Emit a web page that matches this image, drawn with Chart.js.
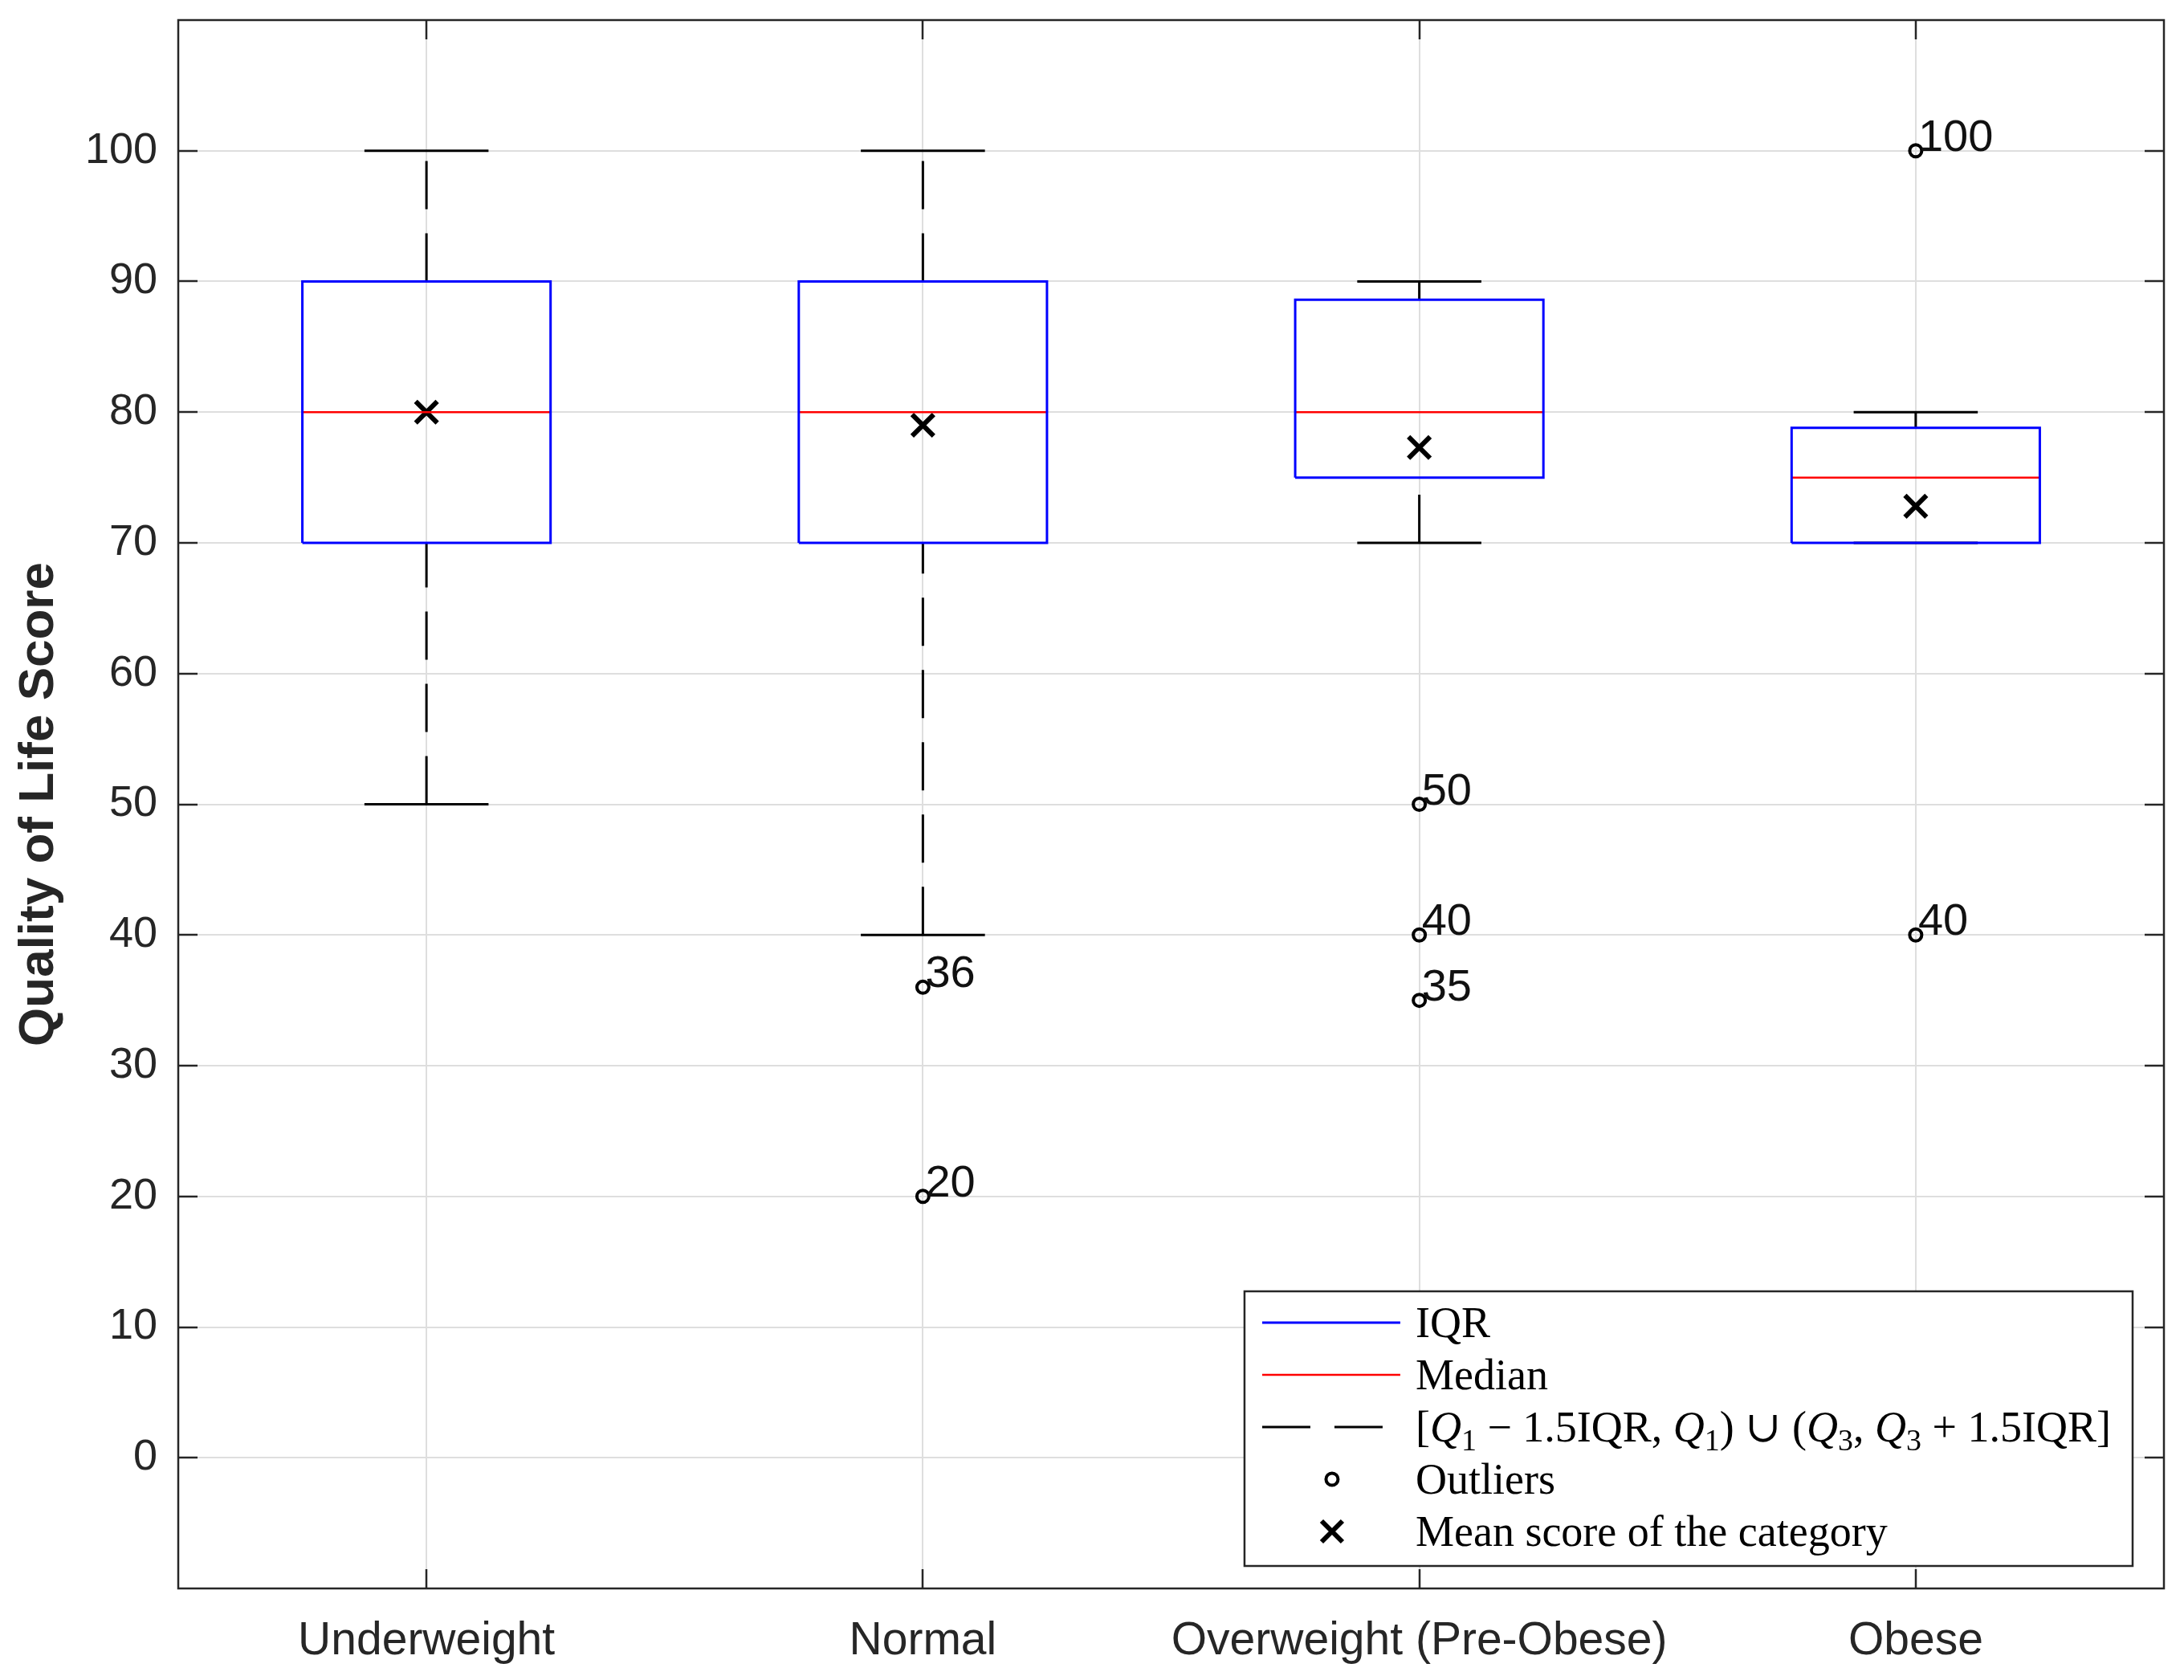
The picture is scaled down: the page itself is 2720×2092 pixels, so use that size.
<!DOCTYPE html>
<html>
<head>
<meta charset="utf-8">
<title>Quality of Life Score by BMI category</title>
<script src="https://cdn.jsdelivr.net/npm/chart.js@4"></script>
<style>
  body { margin: 0; background: #fff; }
  canvas { display: block; }
</style>
</head>
<body>
<canvas id="myChart" width="2720" height="2092"></canvas>
<script>
// values
var categories = ["Underweight", "Normal", "Overweight (Pre-Obese)", "Obese"];
var lowerWhisker = [50, 40, 70, 70];
var q1 = [70, 70, 75, 70];
var medians = [80, 80, 80, 75];
var q3 = [90, 90, 88.6, 78.8];
var upperWhisker = [100, 100, 90, 80];
var means = [80, 79, 77.3, 72.8];
var outliers = [[], [36, 20], [50, 40, 35], [100, 40]];
var yTicks = [0, 10, 20, 30, 40, 50, 60, 70, 80, 90, 100];

var axisColor = "#262626";
var sansFont = "'Liberation Sans', Arial, sans-serif";
var serifFont = "'Liberation Serif', 'DejaVu Serif', serif";

// build the marks from the arrays above, one dataset per kind of mark
var boxData = [], medianData = [], whiskerData = [], capData = [], outlierData = [], meanData = [];
for (var i = 0; i < categories.length; i++) {
    var c = i + 1;
    boxData.push({x: c - 0.25, y: q1[i]}, {x: c + 0.25, y: q1[i]}, {x: c + 0.25, y: q3[i]},
                 {x: c - 0.25, y: q3[i]}, {x: c - 0.25, y: q1[i]}, {x: c, y: null});
    medianData.push({x: c - 0.25, y: medians[i]}, {x: c + 0.25, y: medians[i]}, {x: c, y: null});
    // whiskers go bottom to top so the dash pattern starts at the lower end
    whiskerData.push({x: c, y: lowerWhisker[i]}, {x: c, y: q1[i]}, {x: c, y: null});
    whiskerData.push({x: c, y: q3[i]}, {x: c, y: upperWhisker[i]}, {x: c, y: null});
    capData.push({x: c - 0.125, y: lowerWhisker[i]}, {x: c + 0.125, y: lowerWhisker[i]}, {x: c, y: null});
    capData.push({x: c - 0.125, y: upperWhisker[i]}, {x: c + 0.125, y: upperWhisker[i]}, {x: c, y: null});
    for (var k = 0; k < outliers[i].length; k++) {
        outlierData.push({x: c, y: outliers[i][k]});
    }
    meanData.push({x: c, y: means[i]});
}

function lineSet(label, data, color, width, dash) {
    return {
        label: label,
        data: data,
        borderColor: color,
        borderWidth: width,
        borderDash: dash || [],
        borderJoinStyle: "miter",
        pointRadius: 0,
        pointHoverRadius: 0,
        fill: false,
        tension: 0
    };
}

// text next to every outlier
var outlierLabels = {
    id: "outlierLabels",
    afterDatasetsDraw: function (chart) {
        var ctx = chart.ctx;
        var xs = chart.scales.x, ys = chart.scales.y;
        ctx.save();
        ctx.font = "56px " + sansFont;
        ctx.fillStyle = "#111";
        ctx.textAlign = "left";
        ctx.textBaseline = "alphabetic";
        outlierData.forEach(function (p) {
            ctx.fillText(String(p.y), xs.getPixelForValue(p.x) + 3, ys.getPixelForValue(p.y));
        });
        ctx.restore();
    }
};

// draws [Q1 - 1.5IQR, Q1) U (Q3, Q3 + 1.5IQR] with italic Q and small subscripts
function richParts() {
    return [
        ["[", "n"], ["Q", "i"], ["1", "s"], [" \u2212 1.5IQR, ", "n"], ["Q", "i"], ["1", "s"],
        [") \u222A (", "n"], ["Q", "i"], ["3", "s"], [", ", "n"], ["Q", "i"], ["3", "s"],
        [" + 1.5IQR]", "n"]
    ];
}
function setPartFont(ctx, kind) {
    if (kind == "i") ctx.font = "italic 54px " + serifFont;
    else if (kind == "s") ctx.font = "38px " + serifFont;
    else ctx.font = "54px " + serifFont;
}
function drawRich(ctx, parts, x, y, measureOnly) {
    var w = 0;
    for (var j = 0; j < parts.length; j++) {
        setPartFont(ctx, parts[j][1]);
        if (!measureOnly) ctx.fillText(parts[j][0], x + w, parts[j][1] == "s" ? y + 11 : y);
        w += ctx.measureText(parts[j][0]).width;
    }
    return w;
}

var legendLabels = ["IQR", "Median", null, "Outliers", "Mean score of the category"];

// axes box with inward ticks, plus the legend in the lower right corner
var boxAndLegend = {
    id: "boxAndLegend",
    afterDraw: function (chart) {
        var ctx = chart.ctx;
        var a = chart.chartArea;
        var xs = chart.scales.x, ys = chart.scales.y;
        var tl = 24;
        ctx.save();
        ctx.strokeStyle = axisColor;
        ctx.lineWidth = 2.5;
        ctx.strokeRect(a.left, a.top, a.right - a.left, a.bottom - a.top);
        ctx.beginPath();
        yTicks.forEach(function (v) {
            var py = Math.round(ys.getPixelForValue(v));
            ctx.moveTo(a.left, py); ctx.lineTo(a.left + tl, py);
            ctx.moveTo(a.right, py); ctx.lineTo(a.right - tl, py);
        });
        categories.forEach(function (name, idx) {
            var px = Math.round(xs.getPixelForValue(idx + 1));
            ctx.moveTo(px, a.bottom); ctx.lineTo(px, a.bottom - tl);
            ctx.moveTo(px, a.top); ctx.lineTo(px, a.top + tl);
        });
        ctx.stroke();

        // legend
        var widest = 0;
        legendLabels.forEach(function (t) {
            var w;
            if (t === null) {
                w = drawRich(ctx, richParts(), 0, 0, true);
            } else {
                ctx.font = "54px " + serifFont;
                w = ctx.measureText(t).width;
            }
            if (w > widest) widest = w;
        });
        var lw = 213 + widest + 27;
        var lh = 342;
        var lx = a.right - 39 - lw;
        var ly = a.bottom - 28 - lh;
        ctx.fillStyle = "#fff";
        ctx.fillRect(lx, ly, lw, lh);
        ctx.strokeStyle = axisColor;
        ctx.lineWidth = 2.5;
        ctx.strokeRect(lx, ly, lw, lh);

        var samples = chart.data.datasets;
        for (var r = 0; r < legendLabels.length; r++) {
            var cy = ly + 39 + r * 65;
            ctx.setLineDash([]);
            if (r < 3) {
                var ds = samples[r];
                ctx.strokeStyle = ds.borderColor;
                ctx.lineWidth = ds.borderWidth;
                ctx.setLineDash(ds.borderDash);
                ctx.beginPath();
                ctx.moveTo(lx + 22, cy); ctx.lineTo(lx + 194, cy);
                ctx.stroke();
                ctx.setLineDash([]);
            } else if (r == 3) {
                ctx.strokeStyle = "#000";
                ctx.lineWidth = 4;
                ctx.beginPath();
                ctx.arc(lx + 109, cy, 7.5, 0, Math.PI * 2);
                ctx.stroke();
            } else {
                ctx.strokeStyle = "#000";
                ctx.lineWidth = 6;
                ctx.beginPath();
                ctx.moveTo(lx + 96, cy - 13); ctx.lineTo(lx + 122, cy + 13);
                ctx.moveTo(lx + 96, cy + 13); ctx.lineTo(lx + 122, cy - 13);
                ctx.stroke();
            }
            ctx.fillStyle = "#000";
            ctx.textAlign = "left";
            ctx.textBaseline = "alphabetic";
            if (legendLabels[r] === null) {
                drawRich(ctx, richParts(), lx + 213, cy + 18, false);
            } else {
                ctx.font = "54px " + serifFont;
                ctx.fillText(legendLabels[r], lx + 213, cy + 18);
            }
        }
        ctx.restore();
    }
};

Chart.defaults.font.family = sansFont;
Chart.defaults.color = axisColor;

new Chart("myChart", {
    type: "line",
    data: {
        datasets: [
            lineSet("IQR", boxData, "#0000ff", 3),
            lineSet("Median", medianData, "#ff0000", 2.5),
            lineSet("Whiskers", whiskerData, "#000000", 3, [60, 30]),
            lineSet("Caps", capData, "#000000", 3),
            {
                label: "Outliers",
                data: outlierData,
                showLine: false,
                pointStyle: "circle",
                pointRadius: 7.5,
                pointHoverRadius: 7.5,
                pointBorderWidth: 4,
                pointBorderColor: "#000",
                pointBackgroundColor: "rgba(0,0,0,0)"
            },
            {
                label: "Mean score of the category",
                data: meanData,
                showLine: false,
                pointStyle: "crossRot",
                pointRadius: 19,
                pointHoverRadius: 19,
                pointBorderWidth: 6,
                pointBorderColor: "#000"
            }
        ]
    },
    options: {
        responsive: false,
        devicePixelRatio: 1,
        animation: false,
        events: [],
        layout: { padding: { top: 21, right: 19, left: 0, bottom: 0 } },
        plugins: {
            legend: { display: false },
            tooltip: { enabled: false }
        },
        scales: {
            x: {
                type: "linear",
                min: 0.5,
                max: 4.5,
                afterBuildTicks: function (scale) {
                    scale.ticks = categories.map(function (name, idx) { return {value: idx + 1}; });
                },
                afterFit: function (scale) {
                    scale.height = 114;
                    scale.paddingLeft = 0;
                    scale.paddingRight = 0;
                },
                ticks: {
                    autoSkip: false,
                    maxRotation: 0,
                    padding: 32,
                    font: { size: 57 },
                    color: axisColor,
                    callback: function (value) { return categories[Math.round(value) - 1]; }
                },
                grid: { color: "#dedede", lineWidth: 2, drawTicks: false },
                border: { display: false }
            },
            y: {
                type: "linear",
                min: -10,
                max: 110,
                afterBuildTicks: function (scale) {
                    scale.ticks = yTicks.map(function (v) { return {value: v}; });
                },
                afterFit: function (scale) {
                    scale.width = 222;
                    scale.paddingTop = 0;
                    scale.paddingBottom = 0;
                },
                ticks: {
                    autoSkip: false,
                    padding: 26,
                    font: { size: 54 },
                    color: axisColor,
                    callback: function (value) { return String(value); }
                },
                grid: { color: "#dedede", lineWidth: 2, drawTicks: false },
                border: { display: false },
                title: {
                    display: true,
                    text: "Quality of Life Score",
                    font: { size: 62, weight: "bold" },
                    color: axisColor,
                    padding: { top: 12, bottom: 0 }
                }
            }
        }
    },
    plugins: [outlierLabels, boxAndLegend]
});
</script>
</body>
</html>
